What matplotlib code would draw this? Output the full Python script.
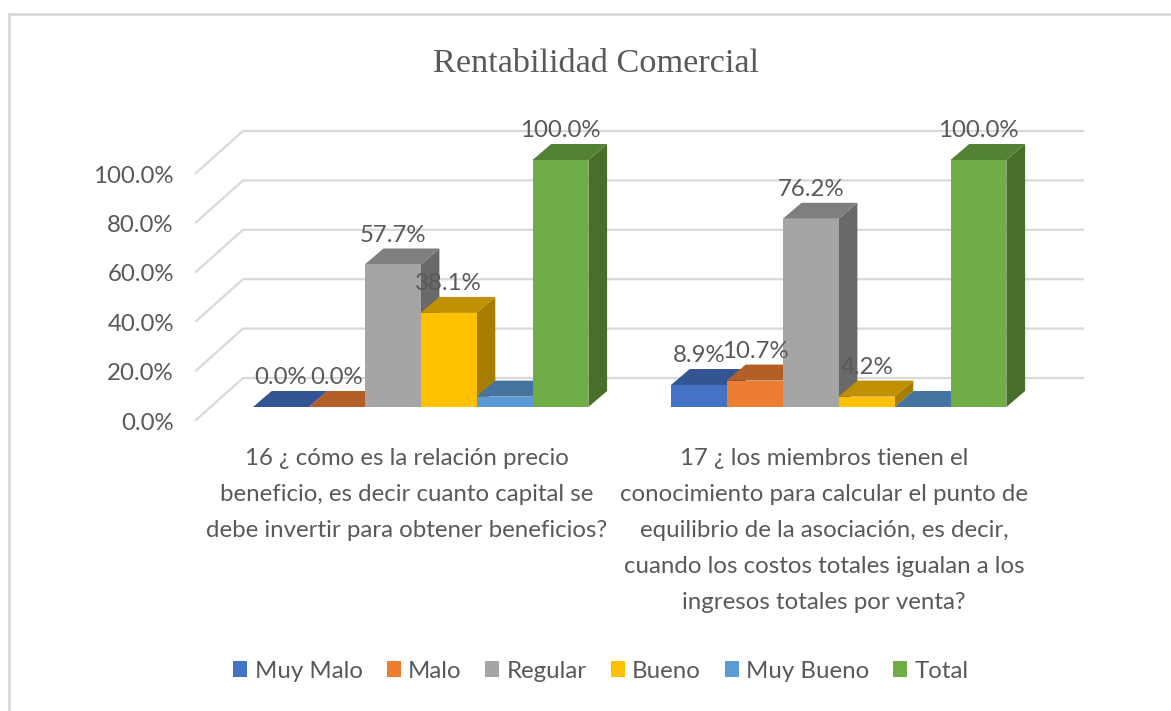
"""
Rentabilidad Comercial: Excel style 3D clustered columns drawn on a plain 2D axes.
"""
import matplotlib
matplotlib.use("Agg")
import matplotlib.pyplot as plt
from matplotlib.patches import Patch, Polygon

plt.rcParams["font.family"] = ["Lato", "DejaVu Sans"]

W, H = 1171, 711
TEXT = "#595959"
GRID = "#D9D9D9"
FS = 17.3

# Data
series = ["Muy Malo", "Malo", "Regular", "Bueno", "Muy Bueno", "Total"]
q16 = [0.0, 0.0, 57.7, 38.1, 4.2, 100.0]
q17 = [8.9, 10.7, 76.2, 4.2, 0.0, 100.0]
q16_labels = ["0.0%", "0.0%", "57.7%", "38.1%", None, "100.0%"]
q17_labels = ["8.9%", "10.7%", "76.2%", "4.2%", None, "100.0%"]
categories = [
    "16 ¿ cómo es la relación precio\nbeneficio, es decir cuanto capital se\ndebe invertir para obtener beneficios?",
    "17 ¿ los miembros tienen el\nconocimiento para calcular el punto de\nequilibrio de la asociación, es decir,\ncuando los costos totales igualan a los\ningresos totales por venta?",
]
y_ticks = [0, 20, 40, 60, 80, 100]
front = ["#4472C4", "#ED7D31", "#A5A5A5", "#FFC000", "#5B9BD5", "#70AD47"]
top = ["#335593", "#B45F27", "#7F7F7F", "#BF9000", "#44749F", "#548235"]
side = ["#2A4478", "#8F4B1E", "#696969", "#A67D00", "#366083", "#496E2A"]

# Pixel geometry of the plot, everything below goes through data coords
AX_L, AX_R, AX_T, AX_B = 190, 1090, 120, 430
X0, CAT_STEP = 253.0, 418.0   # left edge of the first group, group spacing
Y0, Y100 = 407.0, 160.0       # front baseline, front 100%
PX_PER_PCT = (Y0 - Y100) / 100
BAR_W = 55.9 / CAT_STEP
DX, DY = 18.7 / CAT_STEP, 16.0 / PX_PER_PCT     # bar depth
WALL_X0, WALL_X1, FLOOR_X = (243 - X0) / CAT_STEP, (1083 - X0) / CAT_STEP, (196 - X0) / CAT_STEP
WALL_UP, FLOOR_DOWN = 29.0 / PX_PER_PCT, 13.0 / PX_PER_PCT

fig = plt.figure(figsize=(W / 100, H / 100), dpi=100)
ax = fig.add_axes([AX_L / W, 1 - AX_B / H, (AX_R - AX_L) / W, (AX_B - AX_T) / H])
ax.set_xlim((AX_L - X0) / CAT_STEP, (AX_R - X0) / CAT_STEP)
ax.set_ylim((Y0 - AX_B) / PX_PER_PCT, (Y0 - AX_T) / PX_PER_PCT)
ax.axis("off")

# picture frame: top and left edge only
for xs, ys in [((8.5, 1171), (13.5, 13.5)), ((8.5, 8.5), (13.5, 711))]:
    fig.add_artist(plt.Line2D([x / W for x in xs], [1 - y / H for y in ys], color=GRID, lw=2))

# back wall + floor gridlines
for v in y_ticks:
    ax.plot([FLOOR_X, WALL_X0, WALL_X1], [v - FLOOR_DOWN, v + WALL_UP, v + WALL_UP],
            color=GRID, lw=1.6, zorder=1, clip_on=False)
    ax.annotate(f"{v:.1f}%", (FLOOR_X, v - FLOOR_DOWN), xytext=(-16, -2.3), textcoords="offset points",
                ha="right", va="center", fontsize=FS, color=TEXT)

# bars
z = 2
for c, (vals, labs) in enumerate([(q16, q16_labels), (q17, q17_labels)]):
    for i, v in enumerate(vals):
        x = c + i * BAR_W
        ax.add_patch(Polygon([(x + BAR_W, 0), (x + BAR_W + DX, DY), (x + BAR_W + DX, v + DY), (x + BAR_W, v)],
                             fc=side[i], ec="none", zorder=z))
        ax.add_patch(Polygon([(x, v), (x + DX, v + DY), (x + BAR_W + DX, v + DY), (x + BAR_W, v)],
                             fc=top[i], ec="none", zorder=z))
        ax.bar(x, v, BAR_W, align="edge", color=front[i], zorder=z)
        z += 1
        if labs[i]:
            ax.annotate(labs[i], (x + BAR_W / 2, v), xytext=(0, 21), textcoords="offset points",
                        ha="center", va="center", fontsize=FS, color=TEXT, zorder=50)

# category labels
for c, label in zip([407, 824], categories):
    fig.text(c / W, 1 - 448 / H, label, ha="center", va="top", fontsize=FS,
             color=TEXT, linespacing=1.88)

fig.text(596 / W, 1 - 64 / H, "Rentabilidad Comercial", ha="center", va="center",
         fontsize=24.7, color=TEXT, family="Liberation Serif")

handles = [Patch(fc=col, ec="none", label=s) for col, s in zip(front, series)]
fig.legend(handles=handles, loc="center", bbox_to_anchor=(601 / W, 1 - 671 / H), ncol=6, frameon=False,
           fontsize=FS, labelcolor=TEXT, handlelength=0.58, handleheight=0.62, handletextpad=0.3,
           columnspacing=1.0)

fig.savefig("out.png", dpi=100)
